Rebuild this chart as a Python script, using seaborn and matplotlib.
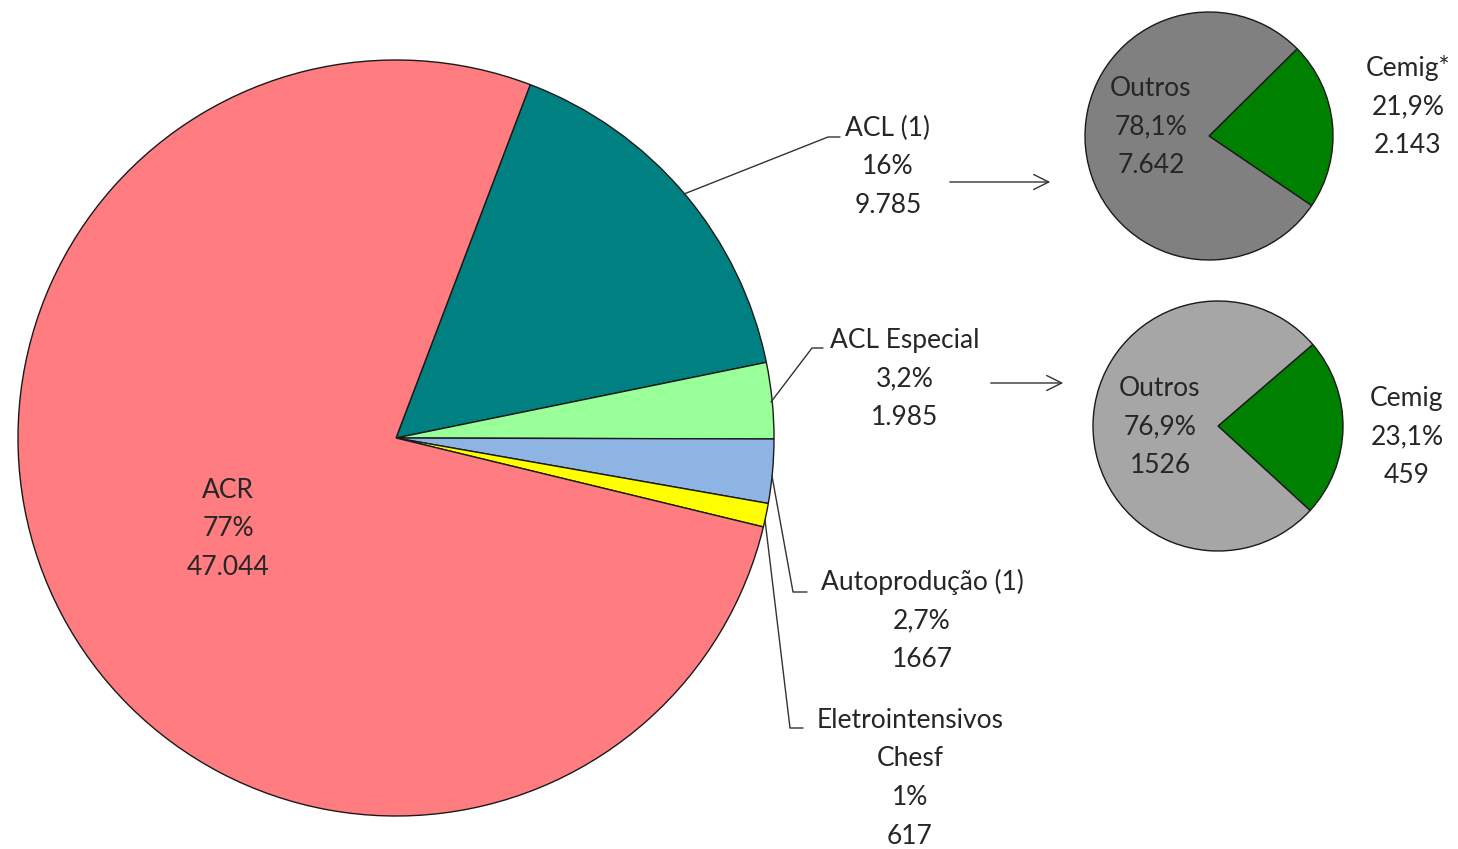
import matplotlib
matplotlib.use("Agg")
import matplotlib.pyplot as plt
import seaborn as sns

# ---- data ----
main_labels = ["ACL (1)", "ACL Especial", "Autoprodução (1)", "Eletrointensivos\nChesf", "ACR"]
main_values = [9785, 1985, 1667, 617, 47044]
main_pct = ["16%", "3,2%", "2,7%", "1%", "77%"]
main_txt = ["9.785", "1.985", "1667", "617", "47.044"]
main_colors = ["#008080", "#99FF99", "#8DB4E2", "#FFFF00", "#FF7C80"]

acl_labels = ["Cemig*", "Outros"]
acl_values = [2143, 7642]
acl_pct = ["21,9%", "78,1%"]
acl_txt = ["2.143", "7.642"]
acl_colors = ["#008000", "#808080"]

esp_labels = ["Cemig", "Outros"]
esp_values = [459, 1526]
esp_pct = ["23,1%", "76,9%"]
esp_txt = ["459", "1526"]
esp_colors = ["#008000", "#A6A6A6"]

sns.set_theme(style="white")
plt.rcParams["font.family"] = ["Lato", "DejaVu Sans"]

W, H = 1458, 849
fig = plt.figure(figsize=(W / 100, H / 100), dpi=100)
ax = fig.add_axes([0, 0, 1, 1])
ax.set_xlim(0, W)
ax.set_ylim(0, H)
ax.set_aspect("equal")
ax.axis("off")

def Y(y):
    return H - y

wp = dict(edgecolor="#1a1a1a", linewidth=1.0)
ax.pie(main_values, colors=main_colors, startangle=69.2, counterclock=False,
       center=(396, Y(438)), radius=378, wedgeprops=wp, frame=True)
ax.pie(acl_values, colors=acl_colors, startangle=44.7, counterclock=False,
       center=(1209, Y(136)), radius=124, wedgeprops=wp, frame=True)
ax.pie(esp_values, colors=esp_colors, startangle=40.7, counterclock=False,
       center=(1218, Y(426)), radius=125, wedgeprops=wp, frame=True)
ax.set_xlim(0, W)
ax.set_ylim(0, H)
ax.axis("off")

TC = "#262626"
FS = 19

def block(lines, x, y0, pitch=38.8, ha="center"):
    for i, s in enumerate(lines):
        ax.text(x, Y(y0 + i * pitch), s, ha=ha, va="center", fontsize=FS, color=TC)

# main pie labels
block(["ACR", main_pct[4], main_txt[4]], 228, 490)
block(["ACL (1)", main_pct[0], main_txt[0]], 888, 128)
block(["ACL Especial", main_pct[1], main_txt[1]], 905, 340)
block(["Autoprodução (1)", main_pct[2], main_txt[2]], 922, 582)
block(main_labels[3].split("\n") + [main_pct[3], main_txt[3]], 910, 720)

# leader lines
LC = "#333333"
def leader(pts):
    ax.plot([p[0] for p in pts], [Y(p[1]) for p in pts], color=LC, lw=1.0)

leader([(684, 194), (828, 137), (840, 137)])
leader([(771, 402), (812, 348), (823, 348)])
leader([(772, 476), (793, 592), (807, 592)])
leader([(765, 520), (790, 728), (803, 728)])

# arrows
for (x0, x1, y) in [(947, 1053, 182), (988, 1066, 383)]:
    ax.annotate("", xy=(x1, Y(y)), xytext=(x0, Y(y)),
                arrowprops=dict(arrowstyle="->,head_length=0.9,head_width=0.45",
                                color="#333333", lw=1.0))

# small pies labels
block([acl_labels[1], acl_pct[1], acl_txt[1]], 1151, 88)
block([acl_labels[0], acl_pct[0], acl_txt[0]], 1408, 68)
block([esp_labels[1], esp_pct[1], esp_txt[1]], 1160, 388)
block([esp_labels[0], esp_pct[0], esp_txt[0]], 1407, 398)

fig.savefig("out.png", dpi=100, facecolor="white")
